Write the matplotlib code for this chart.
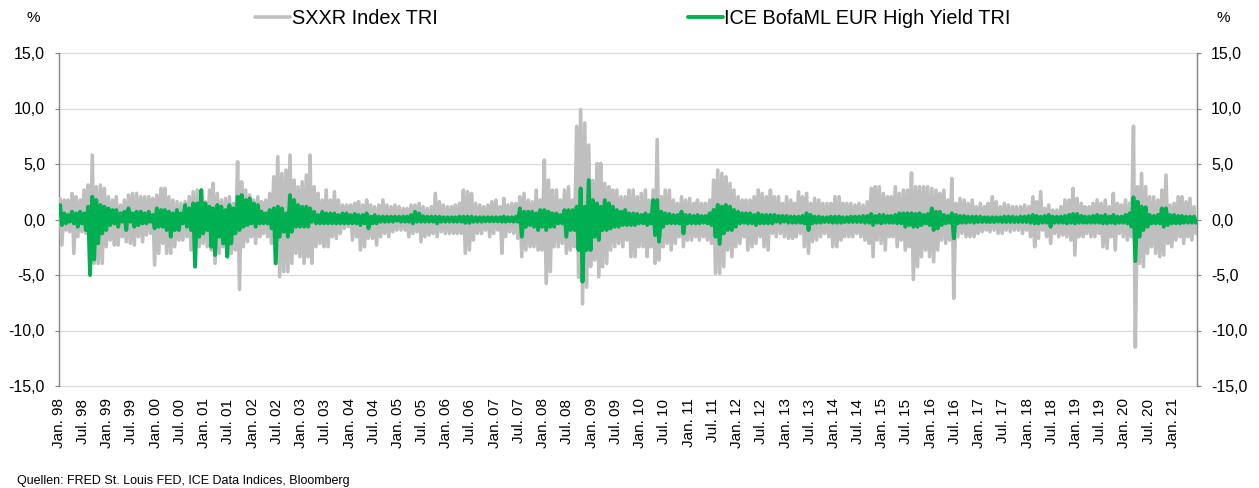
import numpy as np
import pandas as pd
import matplotlib
matplotlib.use("Agg")
import matplotlib.pyplot as plt

plt.rcParams['font.family'] = ['Liberation Sans', 'DejaVu Sans']

# monthly extremes of the daily total returns in %
# one row per year, Jan 1998 .. Jun 2021
sxxr_hi = [
    1.9, 1.75, 1.75, 2.35, 2.05, 1.75, 2.65, 3.1, 5.8, 2.95, 3.1, 2.8,
    2.05, 1.75, 2.05, 1.3, 1.75, 2.2, 2.35, 2.35, 2.05, 2.05, 2.05, 1.9,
    2.2, 2.8, 2.8, 2.05, 1.75, 1.6, 1.45, 1.6, 2.05, 2.5, 2.65, 2.35,
    1.6, 2.65, 3.25, 2.35, 1.75, 1.9, 2.05, 1.45, 5.2, 3.4, 2.65, 2.2,
    1.75, 2.05, 1.6, 1.75, 2.35, 3.85, 5.65, 4.15, 4.45, 5.8, 3.55, 2.95,
    3.4, 4.0, 5.8, 2.95, 2.35, 1.75, 2.65, 1.75, 2.5, 1.75, 1.3, 1.3,
    1.3, 1.45, 1.6, 1.3, 1.75, 1.3, 1.15, 1.3, 1.75, 1.3, 1.15, 1.3,
    1.15, 1.0, 1.0, 1.3, 1.3, 1.45, 1.15, 1.0, 1.15, 2.35, 1.6, 1.3,
    1.15, 1.15, 1.3, 1.45, 2.65, 2.5, 2.35, 1.45, 1.3, 1.15, 1.3, 1.6,
    1.75, 1.15, 1.9, 1.3, 1.45, 1.45, 2.05, 2.35, 1.75, 1.6, 2.65, 1.75,
    5.35, 3.55, 2.65, 2.65, 1.75, 2.65, 2.95, 1.75, 8.4, 9.9, 8.7, 6.7,
    3.5, 5.05, 5.05, 3.25, 2.95, 2.65, 2.65, 2.05, 2.05, 2.65, 2.65, 2.05,
    2.35, 2.65, 1.75, 2.65, 7.2, 2.05, 2.65, 2.65, 1.75, 1.45, 2.05, 1.75,
    1.9, 1.45, 1.75, 1.45, 1.45, 1.75, 3.55, 4.45, 4.15, 3.85, 3.25, 2.65,
    2.05, 1.75, 1.75, 1.75, 2.05, 2.65, 2.35, 2.05, 2.65, 2.05, 2.05, 1.45,
    2.05, 1.75, 1.45, 2.5, 2.05, 2.35, 1.45, 1.9, 1.75, 1.45, 1.45, 1.45,
    2.05, 2.05, 1.45, 1.45, 1.45, 1.3, 1.45, 1.3, 1.6, 2.8, 2.95, 2.95,
    2.35, 2.05, 2.05, 2.95, 2.35, 2.65, 2.65, 4.2, 2.95, 2.95, 2.95, 2.95,
    2.8, 2.65, 2.35, 2.65, 1.75, 3.7, 1.45, 1.9, 1.75, 1.45, 1.75, 1.15,
    1.45, 1.15, 1.45, 2.05, 1.6, 1.15, 1.45, 1.3, 1.15, 1.15, 1.15, 1.3,
    1.15, 2.05, 1.6, 2.5, 1.0, 1.3, 0.85, 0.85, 1.15, 1.75, 1.75, 2.8,
    1.9, 1.45, 1.15, 1.15, 1.45, 1.75, 1.45, 1.75, 1.15, 2.35, 1.45, 1.3,
    1.75, 1.45, 8.4, 2.95, 4.15, 2.95, 2.05, 2.05, 1.75, 2.65, 4.0, 1.3,
    1.45, 2.05, 2.05, 1.6, 1.9, 1.15,
]
sxxr_lo = [
    -2.3, -0.95, -1.1, -3.05, -1.55, -1.1, -1.25, -4.7, -3.95, -3.95, -3.95, -2.45,
    -1.85, -2.3, -2.3, -1.55, -2.0, -2.15, -2.3, -1.55, -2.0, -1.4, -1.25, -4.1,
    -3.05, -2.15, -3.05, -3.05, -2.45, -1.85, -1.85, -1.55, -2.75, -2.45, -2.45, -2.15,
    -2.45, -2.75, -3.95, -3.05, -2.45, -2.75, -3.05, -2.75, -6.3, -2.45, -2.0, -1.55,
    -2.15, -1.55, -1.25, -1.55, -2.15, -3.95, -5.15, -4.7, -4.7, -3.95, -3.05, -3.35,
    -3.95, -3.35, -3.95, -2.45, -2.15, -2.45, -2.45, -1.55, -1.7, -1.25, -0.8, -0.65,
    -1.85, -1.55, -2.75, -2.45, -1.7, -1.7, -2.3, -1.55, -1.25, -1.55, -1.1, -0.95,
    -0.95, -0.95, -1.55, -1.25, -1.1, -2.0, -1.55, -1.4, -1.25, -1.55, -1.1, -1.25,
    -1.25, -1.25, -1.25, -1.25, -3.05, -2.75, -1.85, -1.25, -1.25, -0.95, -1.55, -1.25,
    -0.95, -3.05, -1.55, -1.1, -1.25, -1.7, -3.35, -2.75, -2.45, -2.45, -2.75, -2.75,
    -5.75, -4.7, -2.45, -2.45, -2.15, -3.05, -2.75, -2.45, -5.2, -7.6, -6.1, -4.25,
    -3.65, -5.15, -4.25, -3.95, -2.75, -2.45, -2.15, -2.45, -1.85, -3.35, -3.35, -2.45,
    -2.45, -3.35, -2.45, -3.95, -3.65, -2.45, -2.15, -2.75, -2.15, -1.55, -2.45, -1.85,
    -1.85, -1.55, -1.85, -1.55, -1.85, -2.15, -4.85, -4.85, -4.25, -2.75, -3.35, -2.45,
    -2.15, -1.55, -2.75, -2.45, -2.15, -1.55, -2.45, -2.75, -1.25, -1.55, -1.25, -1.55,
    -1.7, -1.7, -1.55, -1.25, -2.45, -3.05, -2.0, -1.85, -1.55, -1.25, -1.55, -2.45,
    -2.45, -1.85, -1.55, -1.55, -1.55, -1.25, -1.55, -1.85, -2.15, -3.35, -1.85, -2.15,
    -2.75, -1.55, -1.55, -2.45, -1.85, -2.75, -2.45, -5.4, -4.25, -3.35, -2.75, -3.35,
    -3.8, -2.75, -1.85, -2.15, -1.85, -7.1, -1.55, -1.25, -1.55, -1.55, -1.55, -1.25,
    -1.1, -0.95, -1.1, -0.95, -1.25, -1.25, -0.95, -1.1, -0.95, -0.95, -1.25, -0.95,
    -1.55, -2.45, -1.7, -0.95, -1.55, -2.15, -1.25, -1.55, -1.4, -1.55, -1.85, -3.2,
    -1.55, -1.55, -1.25, -1.55, -1.55, -1.25, -2.45, -2.6, -1.55, -2.75, -1.25, -1.55,
    -1.85, -1.55, -11.5, -3.95, -4.25, -3.05, -2.45, -3.05, -3.35, -3.2, -2.15, -2.45,
    -1.85, -1.55, -2.15, -1.55, -1.85, -1.25,
]
hy_hi = [
    1.3, 0.55, 0.4, 0.7, 0.55, 0.7, 0.55, 1.15, 2.05, 1.75, 1.3, 1.15,
    1.0, 0.85, 0.85, 0.55, 0.7, 1.0, 0.55, 0.7, 0.7, 0.55, 0.7, 0.4,
    1.0, 0.85, 0.85, 0.7, 0.55, 0.85, 0.55, 1.3, 1.0, 1.45, 1.45, 2.65,
    1.45, 1.15, 1.0, 1.3, 1.15, 0.85, 1.3, 1.0, 2.05, 2.2, 1.75, 1.9,
    1.45, 1.3, 0.7, 0.55, 0.85, 1.0, 1.15, 1.0, 0.55, 2.2, 1.75, 1.3,
    1.15, 1.15, 1.0, 0.7, 0.4, 0.7, 0.55, 0.55, 0.55, 0.4, 0.55, 0.55,
    0.4, 0.5, 0.4, 0.4, 0.55, 0.26, 0.4, 0.26, 0.26, 0.26, 0.26, 0.26,
    0.26, 0.26, 0.26, 0.4, 0.7, 0.55, 0.3, 0.26, 0.26, 0.26, 0.26, 0.2,
    0.2, 0.2, 0.2, 0.26, 0.26, 0.26, 0.26, 0.2, 0.2, 0.2, 0.2, 0.2,
    0.2, 0.2, 0.26, 0.2, 0.2, 0.26, 1.0, 0.7, 0.7, 0.7, 0.55, 0.85,
    0.85, 0.7, 0.55, 0.55, 0.4, 0.85, 0.85, 0.85, 1.15, 2.8, 1.15, 3.55,
    1.75, 1.45, 1.15, 1.75, 1.45, 1.15, 0.85, 0.7, 0.85, 0.55, 0.55, 0.5,
    0.4, 0.55, 0.4, 1.75, 1.75, 0.7, 0.55, 0.5, 0.4, 0.4, 0.7, 0.4,
    0.4, 0.32, 0.4, 0.32, 0.32, 0.56, 0.86, 1.31, 1.16, 1.31, 1.16, 0.86,
    0.7, 0.56, 0.56, 0.56, 0.41, 0.56, 0.41, 0.41, 0.41, 0.41, 0.32, 0.32,
    0.32, 0.26, 0.26, 0.26, 0.32, 0.56, 0.41, 0.26, 0.26, 0.2, 0.2, 0.26,
    0.26, 0.26, 0.2, 0.2, 0.26, 0.26, 0.26, 0.32, 0.32, 0.5, 0.32, 0.41,
    0.41, 0.32, 0.32, 0.41, 0.56, 0.56, 0.56, 0.56, 0.5, 0.56, 0.41, 0.5,
    1.0, 0.7, 0.7, 0.41, 0.32, 0.56, 0.41, 0.32, 0.32, 0.26, 0.26, 0.26,
    0.26, 0.2, 0.2, 0.2, 0.2, 0.2, 0.26, 0.26, 0.26, 0.2, 0.26, 0.26,
    0.32, 0.41, 0.32, 0.26, 0.32, 0.41, 0.26, 0.26, 0.26, 0.32, 0.41, 0.5,
    0.5, 0.32, 0.26, 0.26, 0.32, 0.41, 0.32, 0.41, 0.26, 0.41, 0.26, 0.26,
    0.41, 0.56, 2.0, 1.6, 1.16, 1.1, 0.41, 0.32, 0.41, 1.0, 1.0, 0.41,
    0.41, 0.32, 0.32, 0.26, 0.26, 0.26,
]
hy_lo = [
    -0.5, -0.35, -0.2, -0.35, -0.65, -0.35, -0.95, -5.0, -3.6, -2.15, -1.25, -0.95,
    -0.5, -0.35, -0.65, -0.2, -0.95, -0.2, -0.65, -0.5, -0.35, -0.35, -0.2, -0.8,
    -0.65, -0.65, -0.95, -1.55, -0.95, -0.95, -0.35, -0.65, -0.95, -4.25, -1.55, -1.25,
    -0.95, -2.45, -3.2, -1.55, -2.15, -3.35, -2.15, -1.25, -0.95, -0.65, -0.5, -0.35,
    -0.65, -0.35, -0.35, -0.35, -0.8, -3.95, -1.55, -1.1, -1.55, -1.1, -0.65, -0.65,
    -0.65, -0.65, -0.2, -0.35, -0.35, -0.35, -0.35, -0.35, -0.35, -0.35, -0.35, -0.35,
    -0.35, -0.35, -0.5, -0.35, -0.8, -0.35, -0.35, -0.2, -0.2, -0.2, -0.2, -0.11,
    -0.2, -0.2, -0.2, -0.35, -0.2, -0.2, -0.2, -0.2, -0.2, -0.35, -0.2, -0.2,
    -0.2, -0.2, -0.2, -0.2, -0.3, -0.3, -0.2, -0.2, -0.2, -0.17, -0.17, -0.17,
    -0.17, -0.2, -0.2, -0.17, -0.2, -0.2, -1.55, -0.65, -0.5, -0.65, -0.95, -0.65,
    -0.95, -0.65, -0.65, -0.35, -0.35, -1.55, -0.95, -0.95, -2.75, -5.6, -2.75, -2.75,
    -1.55, -1.85, -0.95, -0.95, -0.8, -0.65, -0.65, -0.5, -0.5, -0.5, -0.5, -0.35,
    -0.35, -0.5, -0.35, -1.4, -2.0, -0.65, -0.35, -0.35, -0.35, -0.35, -1.25, -0.35,
    -0.35, -0.35, -0.35, -0.29, -0.35, -0.5, -1.55, -2.2, -1.25, -0.95, -0.95, -0.65,
    -0.35, -0.29, -0.35, -0.35, -0.5, -0.35, -0.35, -0.35, -0.35, -0.2, -0.29, -0.2,
    -0.29, -0.29, -0.29, -0.29, -0.35, -0.95, -0.35, -0.29, -0.29, -0.23, -0.23, -0.29,
    -0.29, -0.29, -0.23, -0.23, -0.23, -0.23, -0.23, -0.29, -0.29, -0.5, -0.29, -0.35,
    -0.29, -0.29, -0.29, -0.35, -0.35, -0.65, -0.5, -0.65, -0.65, -0.5, -0.35, -0.5,
    -0.95, -0.8, -0.5, -0.35, -0.29, -1.7, -0.35, -0.29, -0.29, -0.23, -0.29, -0.23,
    -0.23, -0.23, -0.23, -0.23, -0.2, -0.23, -0.23, -0.23, -0.23, -0.23, -0.23, -0.23,
    -0.29, -0.35, -0.35, -0.29, -0.29, -0.65, -0.29, -0.29, -0.29, -0.35, -0.29, -0.35,
    -0.29, -0.29, -0.29, -0.29, -0.29, -0.29, -0.35, -0.35, -0.29, -0.35, -0.29, -0.29,
    -0.35, -0.65, -3.75, -1.55, -0.95, -0.65, -0.35, -0.35, -0.35, -0.65, -0.5, -0.35,
    -0.35, -0.35, -0.29, -0.29, -0.29, -0.29,
]

GREY = '#bfbfbf'
GREEN = '#00b050'
AXGREY = '#868686'


def zigzag(months, hi, lo):
    # alternate the monthly high and low so the line fills the range
    t = np.empty(2 * len(months), dtype='datetime64[ns]')
    v = np.empty(2 * len(months))
    t[0::2] = (months + pd.Timedelta(days=8)).values
    t[1::2] = (months + pd.Timedelta(days=22)).values
    v[0::2] = hi
    v[1::2] = lo
    return t, v


months = pd.date_range('1998-01-01', periods=len(sxxr_hi), freq='MS')

fig = plt.figure(figsize=(12.59, 4.88), dpi=100)
ax = fig.add_axes([59 / 1259, 1 - 386 / 488, (1197 - 59) / 1259, (386 - 53) / 488])

t1, v1 = zigzag(months, sxxr_hi, sxxr_lo)
t2, v2 = zigzag(months, hy_hi, hy_lo)
ax.plot(t1, v1, color=GREY, lw=2.6, solid_joinstyle='round', solid_capstyle='round',
        label='SXXR Index TRI', zorder=3)
ax.plot(t2, v2, color=GREEN, lw=2.8, solid_joinstyle='round', solid_capstyle='round',
        label='ICE BofaML EUR High Yield TRI', zorder=4)

ax.set_xlim(pd.Timestamp('1998-01-01'), pd.Timestamp('2021-07-01'))
ax.set_ylim(-15, 15)
yt = np.arange(-15, 16, 5)
ylabels = [f"{v:.1f}".replace('.', ',') for v in yt]
ax.set_yticks(yt)
ax.set_yticklabels(ylabels)
ax.yaxis.grid(True, color='#d9d9d9', lw=0.9, zorder=0)
for gl in ax.get_ygridlines():
    gl.set_clip_on(False)
ax.set_axisbelow(True)

ticks = pd.date_range('1998-01-01', '2021-01-01', freq='6MS')
xlabels = [('Jan. ' if d.month == 1 else 'Jul. ') + d.strftime('%y') for d in ticks]
ax.set_xticks(ticks)
ax.set_xticklabels(xlabels, rotation=90, fontsize=11)
ax.tick_params(axis='x', length=0, pad=9)
ax.tick_params(axis='y', labelsize=11.5, length=3, color=AXGREY, pad=7)

for s in ['top', 'bottom']:
    ax.spines[s].set_visible(False)
for s in ['left', 'right']:
    ax.spines[s].set_color(AXGREY)
    ax.spines[s].set_linewidth(1)

ax2 = ax.twinx()
ax2.set_ylim(-15, 15)
ax2.set_yticks(yt)
ax2.set_yticklabels(ylabels)
ax2.tick_params(axis='y', labelsize=11.5, length=3, color=AXGREY, pad=7)
for s in ['top', 'bottom', 'left']:
    ax2.spines[s].set_visible(False)
ax2.spines['right'].set_color(AXGREY)

fig.text(33 / 1259, 1 - 18 / 488, '%', fontsize=11, ha='center', va='center')
fig.text(1223 / 1259, 1 - 18 / 488, '%', fontsize=11, ha='center', va='center')
fig.text(17 / 1259, 1 - 481 / 488, 'Quellen: FRED St. Louis FED, ICE Data Indices, Bloomberg',
         fontsize=9, ha='left', va='center')

handles, labels = ax.get_legend_handles_labels()
fig.legend(handles, labels, ncol=2, loc='center left', bbox_to_anchor=(255 / 1259, 1 - 18 / 488),
           frameon=False, fontsize=14.3, borderpad=0, borderaxespad=0,
           handlelength=1.75, handletextpad=0.1, columnspacing=12.6)

fig.savefig('out.png', dpi=100)
